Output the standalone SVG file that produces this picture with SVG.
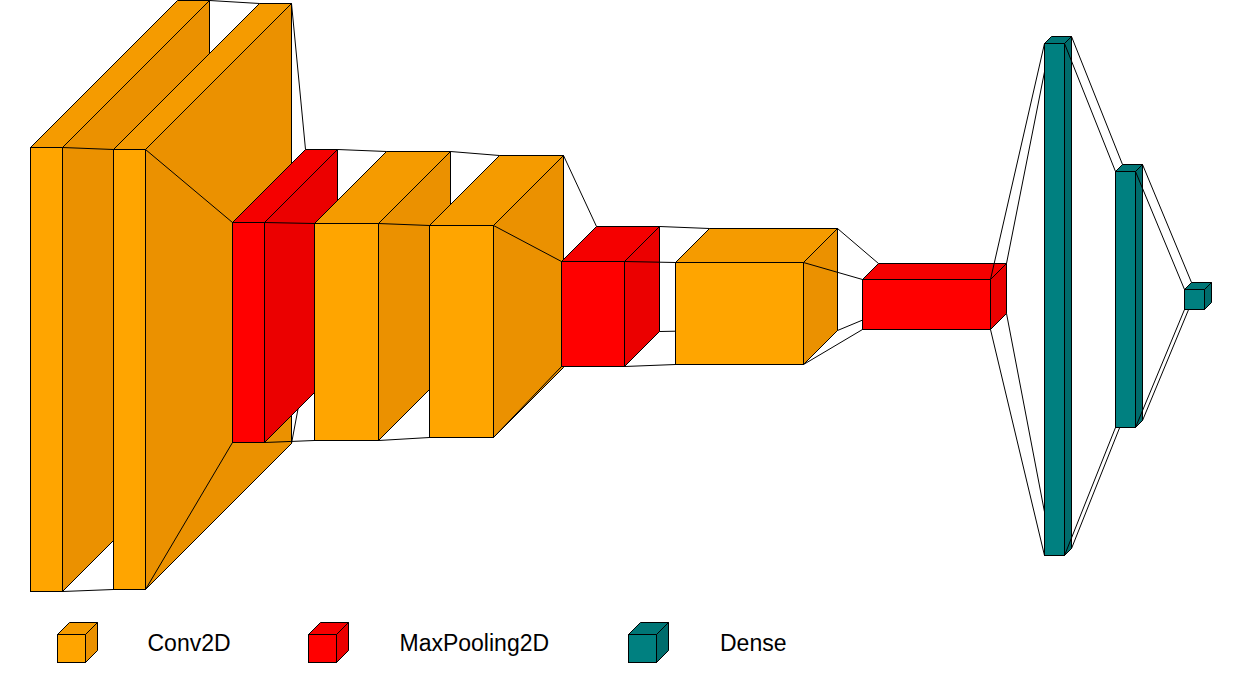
<svg xmlns="http://www.w3.org/2000/svg" width="1242" height="692" viewBox="0 0 1242 692">
<style>
.f,.t,.s{stroke:#000;stroke-width:1;stroke-linejoin:miter}
.conv .f{fill:#FFA500}.conv .t{fill:#F59B00}.conv .s{fill:#EB9100}
.pool .f{fill:#FF0000}.pool .t{fill:#F50000}.pool .s{fill:#EB0000}
.dense .f{fill:#008080}.dense .t{fill:#007676}.dense .s{fill:#006C6C}
#connectors line{stroke:#000;stroke-width:1}
.lbl{font-family:"Liberation Sans",Arial,sans-serif;font-size:23px;fill:#000}
</style>
<rect width="1242" height="692" fill="#fff"/>
<g transform="translate(0.5,0.5)">
<g id="conv2d_1" class="conv"><rect class="f" x="30" y="147" width="32" height="444"/><polygon class="t" points="30,147 177,0 209,0 62,147"/><polygon class="s" points="62,147 209,0 209,444 62,591"/></g>
<g id="conv2d_2" class="conv"><rect class="f" x="113" y="149" width="32" height="440"/><polygon class="t" points="113,149 259,3 291,3 145,149"/><polygon class="s" points="145,149 291,3 291,443 145,589"/></g>
<g id="maxpool_1" class="pool"><rect class="f" x="232" y="222" width="32" height="220"/><polygon class="t" points="232,222 305,149 337,149 264,222"/><polygon class="s" points="264,222 337,149 337,369 264,442"/></g>
<g id="conv2d_3" class="conv"><rect class="f" x="314" y="223" width="64" height="217"/><polygon class="t" points="314,223 386,151 450,151 378,223"/><polygon class="s" points="378,223 450,151 450,368 378,440"/></g>
<g id="conv2d_4" class="conv"><rect class="f" x="429" y="225" width="64" height="212"/><polygon class="t" points="429,225 499,155 563,155 493,225"/><polygon class="s" points="493,225 563,155 563,367 493,437"/></g>
<g id="maxpool_2" class="pool"><rect class="f" x="561" y="261" width="63" height="105"/><polygon class="t" points="561,261 596,226 659,226 624,261"/><polygon class="s" points="624,261 659,226 659,331 624,366"/></g>
<g id="conv2d_5" class="conv"><rect class="f" x="675" y="262" width="128" height="102"/><polygon class="t" points="675,262 709,228 837,228 803,262"/><polygon class="s" points="803,262 837,228 837,330 803,364"/></g>
<g id="maxpool_3" class="pool"><rect class="f" x="862" y="279" width="128" height="50"/><polygon class="t" points="862,279 878,263 1006,263 990,279"/><polygon class="s" points="990,279 1006,263 1006,313 990,329"/></g>
<g id="dense_1" class="dense"><rect class="f" x="1044" y="43" width="20" height="512"/><polygon class="t" points="1044,43 1051,36 1071,36 1064,43"/><polygon class="s" points="1064,43 1071,36 1071,548 1064,555"/></g>
<g id="dense_2" class="dense"><rect class="f" x="1115" y="171" width="20" height="256"/><polygon class="t" points="1115,171 1122,164 1142,164 1135,171"/><polygon class="s" points="1135,171 1142,164 1142,420 1135,427"/></g>
<g id="dense_3" class="dense"><rect class="f" x="1184" y="289" width="20" height="20"/><polygon class="t" points="1184,289 1191,282 1211,282 1204,289"/><polygon class="s" points="1204,289 1211,282 1211,302 1204,309"/></g>
<g id="connectors">
<line x1="209" y1="0" x2="259" y2="3"/><line x1="62" y1="147" x2="113" y2="149"/><line x1="62" y1="591" x2="113" y2="589"/>
<line x1="291" y1="3" x2="305" y2="149"/><line x1="145" y1="149" x2="232" y2="222"/><line x1="145" y1="589" x2="232" y2="442"/><line x1="291" y1="443" x2="297.5" y2="408.5"/>
<line x1="337" y1="149" x2="386" y2="151"/><line x1="264" y1="222" x2="314" y2="223"/><line x1="264" y1="442" x2="314" y2="440"/>
<line x1="450" y1="151" x2="499" y2="155"/><line x1="378" y1="223" x2="429" y2="225"/><line x1="378" y1="440" x2="429" y2="437"/>
<line x1="563" y1="155" x2="596" y2="226"/><line x1="493" y1="225" x2="561" y2="261"/><line x1="493" y1="437" x2="561" y2="366"/>
<line x1="659" y1="226" x2="709" y2="228"/><line x1="624" y1="261" x2="675" y2="262"/><line x1="624" y1="366" x2="675" y2="364"/><line x1="659" y1="331" x2="675" y2="330.7"/>
<line x1="837" y1="228" x2="878" y2="263"/><line x1="803" y1="262" x2="862" y2="279"/><line x1="803" y1="364" x2="862" y2="329"/><line x1="837" y1="330" x2="862" y2="319.6"/>
<line x1="1006" y1="263" x2="1044" y2="71.3"/><line x1="990" y1="279" x2="1044" y2="43"/><line x1="990" y1="329" x2="1044" y2="555"/><line x1="1006" y1="313" x2="1044" y2="511.4"/>
<line x1="1071" y1="36" x2="1122" y2="164"/><line x1="1064" y1="43" x2="1115" y2="171"/><line x1="1064" y1="555" x2="1115" y2="427"/><line x1="1071" y1="548" x2="1119.2" y2="427"/>
<line x1="1142" y1="164" x2="1191" y2="282"/><line x1="1135" y1="171" x2="1184" y2="289"/><line x1="1135" y1="427" x2="1184" y2="309"/><line x1="1142" y1="420" x2="1188.1" y2="309"/>
</g>
<g id="legend">
<g id="legend_conv2d" class="conv"><rect class="f" x="57" y="634" width="28" height="28"/><polygon class="t" points="57,634 69,622 97,622 85,634"/><polygon class="s" points="85,634 97,622 97,650 85,662"/></g>
<g id="legend_maxpool" class="pool"><rect class="f" x="308" y="634" width="28" height="28"/><polygon class="t" points="308,634 320,622 348,622 336,634"/><polygon class="s" points="336,634 348,622 348,650 336,662"/></g>
<g id="legend_dense" class="dense"><rect class="f" x="628" y="634" width="28" height="28"/><polygon class="t" points="628,634 640,622 668,622 656,634"/><polygon class="s" points="656,634 668,622 668,650 656,662"/></g>
</g>
</g>
<text class="lbl" x="147.5" y="651">Conv2D</text>
<text class="lbl" x="399.5" y="651">MaxPooling2D</text>
<text class="lbl" x="720" y="651">Dense</text>
</svg>
